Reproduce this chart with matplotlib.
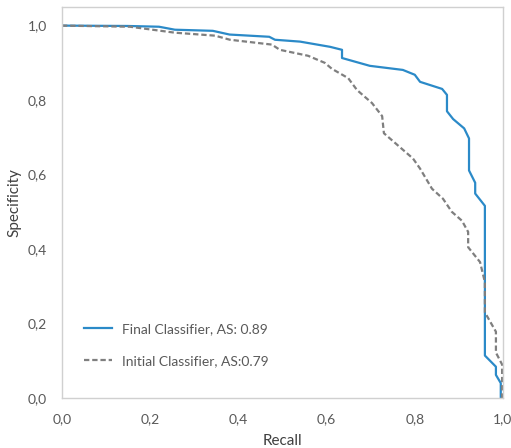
import matplotlib.pyplot as plt

# 読み取った曲線 (recall, specificity)
final_recall = [0.0, 0.15, 0.22, 0.256, 0.342, 0.38, 0.47, 0.483, 0.54, 0.608, 0.635, 0.635,
                0.698, 0.773, 0.80, 0.812, 0.862, 0.873, 0.873, 0.887, 0.912, 0.923, 0.923,
                0.937, 0.937, 0.959, 0.959, 0.984, 0.984, 0.995, 0.995, 1.0]
final_spec = [1.0, 0.999, 0.997, 0.989, 0.986, 0.976, 0.970, 0.962, 0.957, 0.943, 0.935, 0.913,
              0.892, 0.881, 0.868, 0.849, 0.830, 0.814, 0.770, 0.749, 0.724, 0.697, 0.611,
              0.578, 0.549, 0.516, 0.114, 0.084, 0.062, 0.040, 0.0, 0.0]

init_recall = [0.0, 0.154, 0.256, 0.347, 0.381, 0.476, 0.494, 0.558, 0.596, 0.612, 0.649,
               0.669, 0.703, 0.726, 0.730, 0.796, 0.812, 0.839, 0.864, 0.884, 0.907, 0.921,
               0.921, 0.948, 0.959, 0.959, 0.971, 0.984, 0.984, 0.998, 0.998]
init_spec = [1.0, 0.997, 0.981, 0.973, 0.962, 0.949, 0.935, 0.919, 0.900, 0.884, 0.859,
             0.827, 0.792, 0.757, 0.711, 0.643, 0.616, 0.562, 0.535, 0.500, 0.476, 0.446,
             0.405, 0.365, 0.311, 0.230, 0.205, 0.178, 0.122, 0.090, 0.0]

labels = ['Final Classifier, AS: 0.89', 'Initial Classifier, AS:0.79']
ticks = [0.0, 0.2, 0.4, 0.6, 0.8, 1.0]

plt.rcParams['font.family'] = ['Lato', 'DejaVu Sans']
plt.rcParams['font.size'] = 10

fig = plt.figure(figsize=(5.11, 4.48), dpi=100)
ax = fig.add_axes([0.1213, 0.1116, 0.8630, 0.8728])

ax.plot(final_recall, final_spec, color='#2B8AC8', lw=1.6, label=labels[0])
ax.plot(init_recall, init_spec, color='#7F7F7F', lw=1.6, ls=(0, (2.4, 1.3)), label=labels[1])

ax.set_xlim(0, 1.0)
ax.set_ylim(0, 1.05)
ax.set_xticks(ticks)
ax.set_yticks(ticks)
ax.set_xticklabels([f'{t:.1f}'.replace('.', ',') for t in ticks])
ax.set_yticklabels([f'{t:.1f}'.replace('.', ',') for t in ticks])
ax.tick_params(length=0, colors='#595959', labelsize=10)
ax.tick_params(axis='x', pad=11)
ax.tick_params(axis='y', pad=11)
for s in ax.spines.values():
    s.set_color('#D0D0D0')
    s.set_linewidth(1.0)

ax.set_xlabel('Recall', color='#404040', fontsize=11, labelpad=6)
ax.set_ylabel('Specificity', color='#404040', fontsize=11, labelpad=4)

leg = ax.legend(loc='lower left', bbox_to_anchor=(0.05, 0.08), frameon=False,
                borderpad=0, borderaxespad=0, handlelength=2.0, labelspacing=1.4,
                handletextpad=0.7)
for t in leg.get_texts():
    t.set_color('#595959')

fig.savefig('out.png', dpi=100)
